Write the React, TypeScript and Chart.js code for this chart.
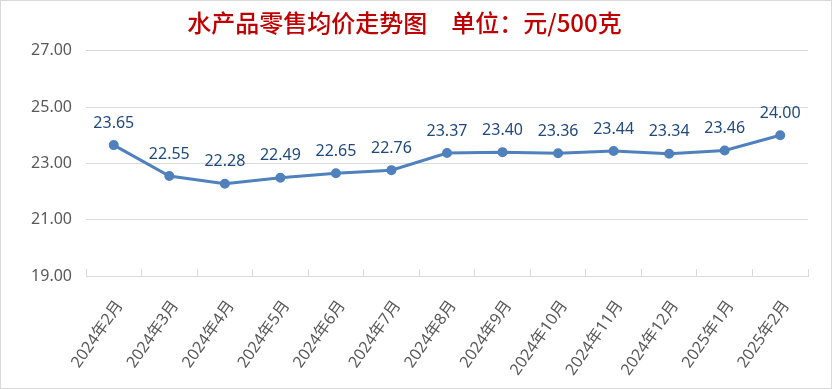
import React, { useEffect, useRef } from "react";
import { Chart, registerables } from "chart.js";

Chart.register(...registerables);

const TITLE = "水产品零售均价走势图　单位：元/500克";
const categories = [
  "2024年2月", "2024年3月", "2024年4月", "2024年5月", "2024年6月", "2024年7月",
  "2024年8月", "2024年9月", "2024年10月", "2024年11月", "2024年12月", "2025年1月", "2025年2月",
];
const prices = [23.65, 22.55, 22.28, 22.49, 22.65, 22.76, 23.37, 23.4, 23.36, 23.44, 23.34, 23.46, 24.0];
const yMin = 19;
const yMax = 27;
const yStep = 2;

const LATIN = "'Noto Sans', 'Noto Sans CJK SC', sans-serif";

const dataLabels = {
  id: "dataLabels",
  afterDatasetsDraw(chart: any) {
    const ctx = chart.ctx;
    const meta = chart.getDatasetMeta(0);
    ctx.save();
    ctx.font = `16px ${LATIN}`;
    ctx.fillStyle = "#1F497D";
    ctx.textAlign = "center";
    ctx.textBaseline = "middle";
    meta.data.forEach((pt: any, i: number) => {
      ctx.fillText(prices[i].toFixed(2), pt.x, pt.y - 22);
    });
    ctx.restore();
  },
};

export default function App() {
  const ref = useRef<HTMLCanvasElement>(null);
  useEffect(() => {
    if (!ref.current) return;
    const chart = new Chart(ref.current, {
      type: "line",
      data: {
        labels: categories,
        datasets: [
          {
            data: prices,
            borderColor: "#4F81BD",
            backgroundColor: "#4F81BD",
            borderWidth: 3,
            pointRadius: 3.5,
            pointBackgroundColor: "#4F81BD",
            pointBorderColor: "#4F81BD",
            tension: 0,
          },
        ],
      },
      options: {
        responsive: false,
        animation: false,
        layout: { padding: { left: 0, right: 23, top: 0, bottom: 0 } },
        plugins: {
          legend: { display: false },
          tooltip: { enabled: false },
          title: {
            display: true,
            text: TITLE,
            color: "#C00000",
            font: { family: "'Noto Sans CJK SC', sans-serif", size: 24, weight: "500" },
            padding: { top: 7, bottom: 14 },
          },
        },
        scales: {
          x: {
            offset: true,
            grid: {
              display: true,
              offset: true,
              drawOnChartArea: false,
              drawTicks: true,
              tickLength: -7,
              color: "#D9D9D9",
            },
            border: { display: true, color: "#D9D9D9", width: 1 },
            ticks: {
              autoSkip: false,
              minRotation: 55,
              maxRotation: 55,
              padding: 28,
              labelOffset: 6,
              color: "#595959",
              font: { family: LATIN, size: 16 },
            },
            afterFit(scale: any) {
              scale.height = 112;
            },
          },
          y: {
            min: yMin,
            max: yMax,
            grid: { color: "#D9D9D9", drawTicks: false },
            border: { display: false },
            ticks: {
              stepSize: yStep,
              padding: 14,
              color: "#595959",
              font: { family: LATIN, size: 16 },
              callback: (v: any) => Number(v).toFixed(2),
            },
            afterFit(scale: any) {
              scale.width = 85;
            },
          },
        },
      },
      plugins: [dataLabels],
    });
    return () => chart.destroy();
  }, []);
  return (
    <div
      style={{
        position: "absolute",
        left: 0,
        top: 0,
        width: 832,
        height: 389,
        boxSizing: "border-box",
        border: "1px solid #D9D9D9",
        background: "#fff",
      }}
    >
      <canvas ref={ref} width={830} height={387} style={{ display: "block", width: 830, height: 387 }} />
    </div>
  );
}
